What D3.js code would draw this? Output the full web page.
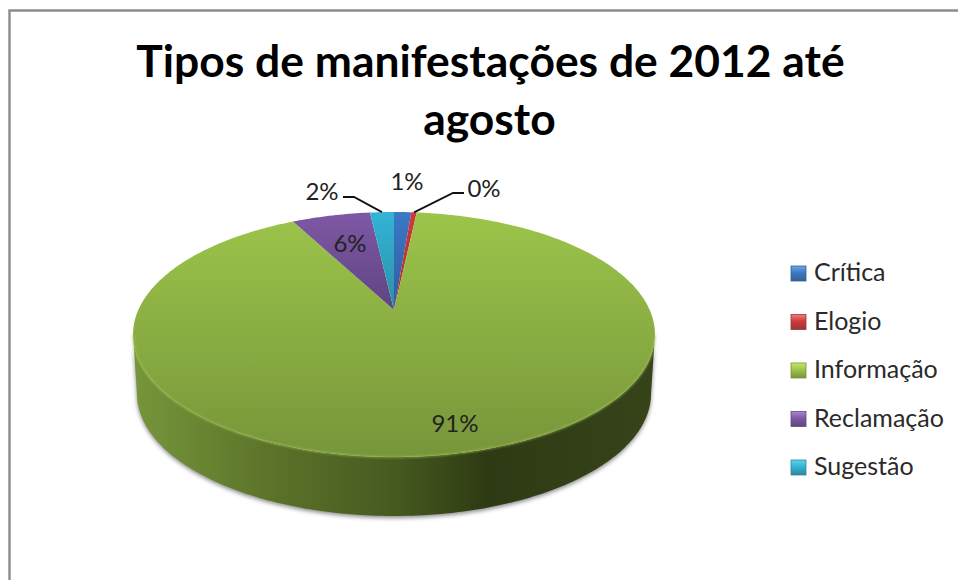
<!DOCTYPE html>
<html>
<head>
  <meta charset="utf-8">
  <title>Tipos de manifestações</title>
<style>
  html, body { margin: 0; padding: 0; background: #fff; }
  svg { display: block; }
  text { font-family: Lato, "Open Sans", sans-serif; fill: #111; }
  .title { font-size: 44.4px; font-weight: 700; fill: #000; text-anchor: middle; }
  .label { font-size: 24px; text-anchor: middle; fill: #222; }
  .legend-text { font-size: 25px; fill: #2a2a2a; }
</style>
</head>
<body>
<div id="chart"></div>
<script src="https://cdn.jsdelivr.net/npm/d3@7"></script>
<script>
const categories = ["Crítica", "Elogio", "Informação", "Reclamação", "Sugestão"];
const values = [1.3, 0.4, 90.6, 5.9, 1.8];
const titleLines = ["Tipos de manifestações de 2012 até", "agosto"];

const topColors = ["#3c78c4", "#d0393a", "#9cc54a", "#7f58a6", "#33b4d6"];
const lowColors = ["#2f5c9e", "#a82d2b", "#77953a", "#5f4480", "#2a8fa8"];
const keyColors = ["#376092", "#953735", "#77933c", "#5f497a", "#31859c"];
const keyLights = ["#6fa6e8", "#ee7f7c", "#cbe763", "#a986d6", "#5fd4ee"];

const width = 958, height = 580;
const cx = 394, cy = 310;
const rx = 255.7, ry = 117.6, tilt = 0.2, depth = 59;

const svg = d3.select("#chart").append("svg")
  .attr("width", width).attr("height", height);
const defs = svg.append("defs");

// frame only shows on top and left, the crop cuts the rest
svg.append("path")
  .attr("d", `M9.5 ${height}V10.5H${width}`)
  .attr("fill", "none").attr("stroke", "#8c8c8c").attr("stroke-width", 2.4);

// perspective: unit circle angle -> screen point
function project(a, r = 1) {
  const u = Math.sin(a) * r, v = -Math.cos(a) * r;
  const w = 1 - tilt * v;
  return [cx + rx * u / w, cy + ry * v / w];
}
function projectBottom(a) {
  const p = project(a);
  return [cx + (p[0] - cx) * 0.985, p[1] + depth];
}
function samples(a0, a1) {
  const n = Math.max(2, Math.ceil(Math.abs(a1 - a0) * 60));
  return d3.range(n + 1).map(i => a0 + (a1 - a0) * i / n);
}

const pie = d3.pie().sort(null).value(d => d);
const slices = pie(values);
const line = d3.line();

// the rim turns at the outermost points of the projected circle
const wallStart = Math.acos(-tilt), wallEnd = 2 * Math.PI - wallStart;

// soft shadow
defs.append("filter").attr("id", "blur")
  .attr("x", "-10%").attr("y", "-10%").attr("width", "120%").attr("height", "120%")
  .append("feGaussianBlur").attr("stdDeviation", 2.2);
defs.append("filter").attr("id", "rim")
  .append("feGaussianBlur").attr("stdDeviation", 0.8);

const wallAngles = samples(wallStart, wallEnd);
const wallPath = line(wallAngles.map(a => project(a))
  .concat(wallAngles.slice().reverse().map(projectBottom))) + "Z";

svg.append("path")
  .attr("d", wallPath)
  .attr("transform", "translate(0,2)")
  .attr("fill", "#8a8a8a").attr("filter", "url(#blur)");

const wallGrad = defs.append("linearGradient").attr("id", "wall")
  .attr("gradientUnits", "userSpaceOnUse")
  .attr("x1", 133).attr("x2", 655).attr("y1", 0).attr("y2", 0);
[[0, "#76963a"], [0.28, "#5a7129"], [0.5, "#465a20"], [0.68, "#2e3a13"], [1, "#37441a"]]
  .forEach(s => wallGrad.append("stop").attr("offset", s[0]).attr("stop-color", s[1]));

svg.append("path").attr("d", wallPath).attr("fill", "url(#wall)");

// top face
slices.forEach((s, i) => {
  const g = defs.append("linearGradient").attr("id", "top" + i)
    .attr("gradientUnits", "userSpaceOnUse")
    .attr("x1", 0).attr("x2", 0).attr("y1", 212).attr("y2", i === 2 ? 457 : 310);
  g.append("stop").attr("offset", 0).attr("stop-color", topColors[i]);
  g.append("stop").attr("offset", 1).attr("stop-color", lowColors[i]);
  const pts = [[cx, cy]].concat(samples(s.startAngle, s.endAngle).map(a => project(a)));
  svg.append("path")
    .attr("d", line(pts) + "Z")
    .attr("fill", `url(#top${i})`);
});

// light edge on the front of the top face
svg.append("path")
  .attr("d", line(wallAngles.map(a => project(a))))
  .attr("fill", "none").attr("stroke", "#9dbf52").attr("stroke-width", 1.4)
  .attr("stroke-opacity", 0.8)
  .attr("filter", "url(#rim)");

// title
svg.selectAll(".title").data(titleLines).enter().append("text")
  .attr("class", "title")
  .attr("x", (d, i) => i === 0 ? 490.5 : 489.5)
  .attr("y", (d, i) => 77 + i * 58)
  .text(d => d);

// data labels
const labelPos = [[407, 190], [484, 197], [455, 432], [350, 252], [322, 200]];
const labelEnd = [null, [464, 193], null, null, [343, 197]];
const elbow = [null, [453, 193], null, null, [354, 197]];
const rimAt = s => project((s.startAngle + s.endAngle) / 2);

slices.forEach((s, i) => {
  if (labelEnd[i]) {
    svg.append("path")
      .attr("d", line([labelEnd[i], elbow[i], rimAt(s)]))
      .attr("fill", "none").attr("stroke", "#111").attr("stroke-width", 1.8);
  }
  svg.append("text").attr("class", "label")
    .attr("x", labelPos[i][0]).attr("y", labelPos[i][1])
    .text(Math.round(s.data) + "%");
});

// legend
const legendY = d3.scalePoint().domain(categories).range([273, 467]);
const legend = svg.selectAll(".legend-item").data(categories).enter().append("g")
  .attr("class", "legend-item")
  .attr("transform", d => `translate(791,${legendY(d)})`);

categories.forEach((c, i) => {
  const g = defs.append("linearGradient").attr("id", "key" + i)
    .attr("x1", 0).attr("x2", 0).attr("y1", 0).attr("y2", 1);
  g.append("stop").attr("offset", 0).attr("stop-color", keyLights[i]);
  g.append("stop").attr("offset", 0.45).attr("stop-color", topColors[i]);
  g.append("stop").attr("offset", 1).attr("stop-color", keyColors[i]);
});

legend.append("rect")
  .attr("x", 0).attr("y", -7).attr("width", 15).attr("height", 15)
  .attr("fill", (d, i) => `url(#key${i})`)
  .attr("stroke", (d, i) => keyColors[i]).attr("stroke-width", 0.8);

legend.append("text").attr("class", "legend-text")
  .attr("x", 23).attr("y", 8)
  .text(d => d);
</script>
</body>
</html>
